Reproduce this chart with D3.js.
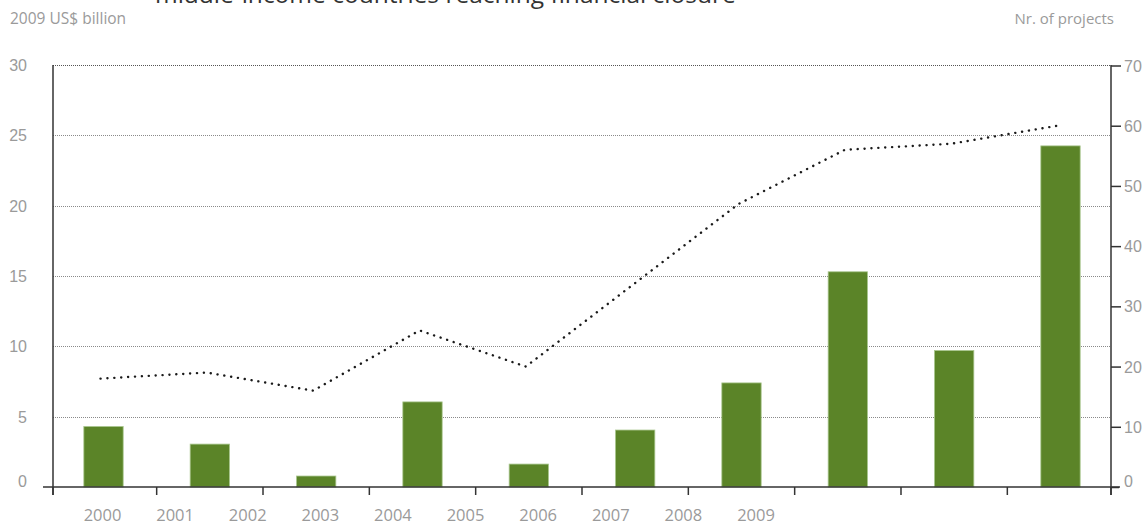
<!DOCTYPE html>
<html>
<head>
<meta charset="UTF-8">
<title>Projects reaching financial closure</title>
<script src="https://d3js.org/d3.v7.min.js"></script>
<style>
    body { margin: 0; background: #fff; }
    svg { font-family: "Open Sans", "Noto Sans", sans-serif; }
    .lbl { fill: #9a9a9a; font-size: 15px; }
</style>
</head>
<body>
<svg id="chart" width="1146" height="524"></svg>
<script>
// data
const years = ["2000", "2001", "2002", "2003", "2004", "2005", "2006", "2007", "2008", "2009"];
const investment = [4.3, 3.05, 0.78, 6.05, 1.63, 4.05, 7.4, 15.3, 9.7, 24.25];   // 2009 US$ billion
const projects = [18, 19, 16, 26, 20, 33.5, 47, 56, 57, 60];                     // nr. of projects
const leftTicks = [0, 5, 10, 15, 20, 25, 30];
const rightTicks = [0, 10, 20, 30, 40, 50, 60, 70];

// plot frame
const pLeft = 53, pRight = 1111, pTop = 65, pBottom = 487;

const svg = d3.select("#chart");

// scales
const x = d3.scaleBand().domain(years).range([pLeft, pRight]).paddingInner(0.63).paddingOuter(0.29);
const xLab = d3.scalePoint().domain(years).range([102.5, 756]);
const yL = d3.scaleLinear().domain([0, 30]).range([pBottom, pTop]);
const yR = d3.scaleLinear().domain([0, 70]).range([pBottom, pTop + 0.5]);

// title (cut off at the top in the original)
svg.append("text")
    .attr("x", 155).attr("y", 3)
    .attr("fill", "#333")
    .style("font-size", "24.5px")
    .text("middle-income countries reaching financial closure");

svg.append("text").attr("class", "lbl").attr("x", 10).attr("y", 24)
    .style("font-size", "15.5px").text("2009 US$ billion");
svg.append("text").attr("class", "lbl").attr("x", 1114).attr("y", 24)
    .attr("text-anchor", "end").style("font-size", "15px").text("Nr. of projects");

// dotted gridlines
svg.append("g")
    .selectAll("line")
    .data(leftTicks.filter(d => d > 0))
    .join("line")
    .attr("x1", pLeft).attr("x2", pRight)
    .attr("y1", d => Math.round(yL(d)) + 0.5).attr("y2", d => Math.round(yL(d)) + 0.5)
    .attr("stroke", d => d === 30 ? "#555" : "#8a8a8a")
    .attr("stroke-width", 1)
    .attr("stroke-dasharray", "1,1");

// bars
svg.append("g")
    .selectAll("rect")
    .data(years)
    .join("rect")
    .attr("x", d => x(d))
    .attr("width", x.bandwidth())
    .attr("y", (d, i) => yL(investment[i]))
    .attr("height", (d, i) => pBottom - yL(investment[i]))
    .attr("fill", "#5b8428")
    .attr("stroke", "#a9c68e")
    .attr("stroke-width", 0.8);

// dotted line for nr. of projects
const line = d3.line()
    .x((d, i) => x(years[i]) + x.bandwidth() / 2 - 3)
    .y(d => yR(d));

svg.append("path")
    .datum(projects)
    .attr("d", line)
    .attr("fill", "none")
    .attr("stroke", "#1a1a1a")
    .attr("stroke-width", 2.4)
    .attr("stroke-linecap", "round")
    .attr("stroke-dasharray", "0.1,6.8");

// left axis: labels only
const leftAxis = svg.append("g").attr("transform", "translate(" + pLeft + ",0)")
    .call(d3.axisLeft(yL).tickValues(leftTicks).tickSize(0).tickPadding(26));
leftAxis.select(".domain").remove();
leftAxis.selectAll("text").attr("class", "lbl").attr("font-family", null).attr("font-size", null)
    .style("font-size", "16px")
    .attr("dy", d => d === 0 ? "-0.05em" : "0.35em");

svg.append("line")
    .attr("x1", pLeft).attr("x2", pLeft).attr("y1", pTop).attr("y2", pBottom + 8)
    .attr("stroke", "#333").attr("stroke-width", 1.5);

// right axis
const rightAxis = svg.append("g").attr("transform", "translate(" + pRight + ",0)")
    .call(d3.axisRight(yR).tickValues(rightTicks).tickSize(10).tickSizeOuter(0).tickPadding(3));
rightAxis.select(".domain").remove();
rightAxis.selectAll(".tick line").attr("stroke", "#333").attr("stroke-width", 1.5)
    .attr("x2", d => d === 0 ? 8 : 10);
rightAxis.selectAll("text").attr("class", "lbl").attr("font-family", null).attr("font-size", null)
    .style("font-size", "16px")
    .attr("x", 13)
    .attr("dy", d => d === 0 ? "-0.05em" : "0.35em");

svg.append("line")
    .attr("x1", pRight).attr("x2", pRight).attr("y1", pTop).attr("y2", pBottom + 8)
    .attr("stroke", "#333").attr("stroke-width", 1.5);

// x axis with ticks on band boundaries
svg.append("line")
    .attr("x1", 43).attr("x2", pRight + 9).attr("y1", pBottom).attr("y2", pBottom)
    .attr("stroke", "#333").attr("stroke-width", 1.5);

const bounds = years.map(d => x(d) - x.step() * x.paddingInner() / 2).concat([pRight]);
bounds[0] = pLeft;
svg.append("g")
    .selectAll("line")
    .data(bounds)
    .join("line")
    .attr("x1", d => d).attr("x2", d => d)
    .attr("y1", pBottom).attr("y2", pBottom + 8)
    .attr("stroke", "#333").attr("stroke-width", 1.5);

// year labels (offset from the bars, as in the original)
svg.append("g")
    .selectAll("text")
    .data(years)
    .join("text")
    .attr("class", "lbl")
    .style("font-size", "16.5px")
    .attr("x", d => xLab(d))
    .attr("y", 521)
    .attr("text-anchor", "middle")
    .text(d => d);
</script>
</body>
</html>
